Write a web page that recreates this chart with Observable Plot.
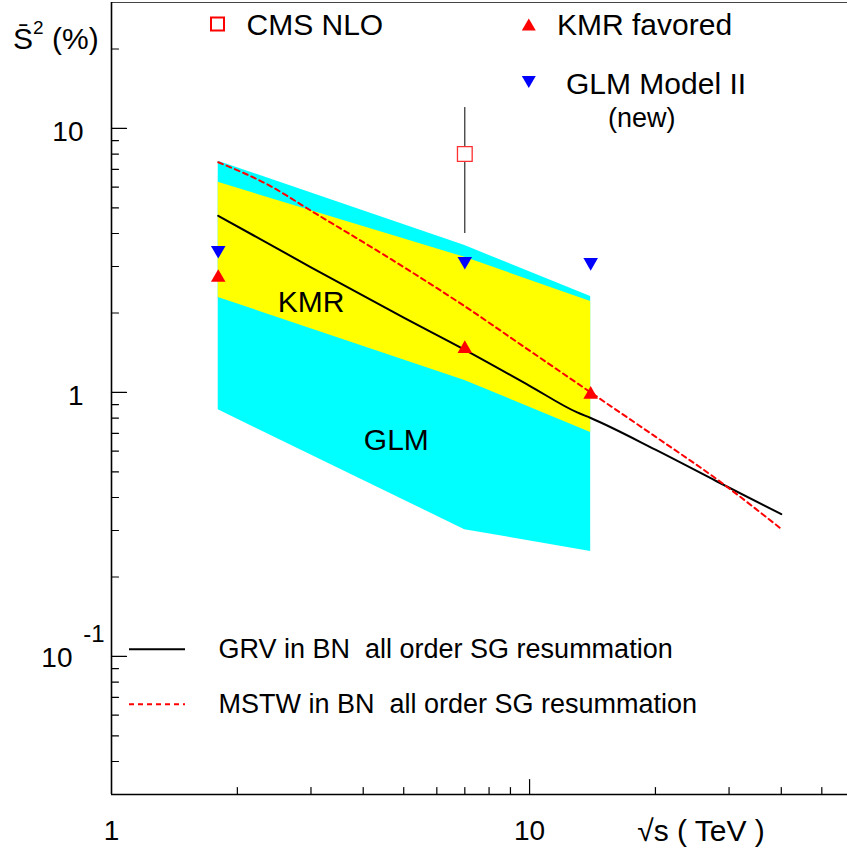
<!DOCTYPE html>
<html><head><meta charset="utf-8">
<script src="https://cdn.jsdelivr.net/npm/d3@7"></script>
<script src="https://cdn.jsdelivr.net/npm/@observablehq/plot@0.6"></script>
<style>html,body{margin:0;padding:0;background:#fff;overflow:hidden}</style>
</head><body><div id="chart"></div>
<script>
// ---------- data (sqrt(s) in TeV, S^2 in %) ----------
const bandEnergies = [1.8, 7, 14];
const glmUpper = [7.52, 3.60, 2.31];
const glmLower = [0.86, 0.302, 0.25];
const kmrUpper = [6.25, 3.25, 2.21];
const kmrLower = [2.29, 1.11, 0.706];

const grvEnergies = [1.8, 3, 5, 7, 10, 13, 14, 20, 28, 40];
const grvValues   = [4.67, 2.98, 1.92, 1.45, 1.06, 0.84, 0.80, 0.607, 0.461, 0.346];
const mstwEnergies = [1.8, 2.4, 3, 4.6, 7, 10, 14, 20, 28, 40];
const mstwValues   = [7.45, 6.05, 4.88, 3.24, 2.12, 1.44, 1.0, 0.68, 0.47, 0.304];

const cmsEnergies = [7];
const cmsValues = [8.0];
const cmsLow = [4.0];
const cmsHigh = [12.0];

const kmrFavEnergies = [1.8, 7, 14];
const kmrFavValues = [2.77, 1.49, 1.0];
const glmIIEnergies = [1.8, 7, 14];
const glmIIValues = [3.40, 3.09, 3.06];

const xMajorTicks = [10];
const xMinorTicks = [2, 3, 4, 5, 6, 7, 8, 9, 20, 30, 40, 50];
const yMajorTicks = [0.1, 1, 10];
const yMinorTicks = [0.04, 0.05, 0.06, 0.07, 0.08, 0.09, 0.2, 0.3, 0.4, 0.5, 0.6, 0.7, 0.8, 0.9, 2, 3, 4, 5, 6, 7, 8, 9, 20];
const xTickValues = [1, 10];
const xTickLabels = ["1", "10"];
const yTickValues = [10, 1];
const yTickLabels = ["10", "1"];
const bandNames = ["KMR", "GLM"];
const bandLabelEnergies = [3.0, 4.8];
const bandLabelValues = [2.2, 0.66];

// ---------- tables ----------
const glmBand = bandEnergies.map((e, i) => ({e, lo: glmLower[i], hi: glmUpper[i]}));
const kmrBand = bandEnergies.map((e, i) => ({e, lo: kmrLower[i], hi: kmrUpper[i]}));
const grv = grvEnergies.map((e, i) => ({e, v: grvValues[i]}));
const mstw = mstwEnergies.map((e, i) => ({e, v: mstwValues[i]}));
const cms = cmsEnergies.map((e, i) => ({e, v: cmsValues[i], lo: cmsLow[i], hi: cmsHigh[i]}));
const kmrFav = kmrFavEnergies.map((e, i) => ({e, v: kmrFavValues[i]}));
const glmII = glmIIEnergies.map((e, i) => ({e, v: glmIIValues[i]}));
const bandLabels = bandNames.map((t, i) => ({t, e: bandLabelEnergies[i], v: bandLabelValues[i]}));
const xLabels = xTickValues.map((v, i) => ({v, t: xTickLabels[i]}));
const yLabels = yTickValues.map((v, i) => ({v, t: yTickLabels[i]}));

const FONT = "'Liberation Sans', Arial, Helvetica, sans-serif";
const tickShape = {draw(ctx, l) { ctx.moveTo(0, 0); ctx.lineTo(0, -l); }};

const W = 847, H = 853;
const chart = Plot.plot({
  width: W, height: H,
  marginLeft: 111, marginRight: 0, marginTop: 2, marginBottom: 59,
  x: {type: "log", domain: [1, 57.6], axis: null},
  y: {type: "log", domain: [0.03, 30], axis: null},
  style: {fontFamily: FONT, background: "white", color: "black"},
  marks: [
    Plot.areaY(glmBand, {x: "e", y1: "lo", y2: "hi", fill: "#00ffff", curve: "linear"}),
    Plot.areaY(kmrBand, {x: "e", y1: "lo", y2: "hi", fill: "#ffff00", curve: "linear"}),
    Plot.line(grv, {x: "e", y: "v", stroke: "black", strokeWidth: 2, curve: "monotone-x"}),
    Plot.line(mstw, {x: "e", y: "v", stroke: "#ff0000", strokeWidth: 2, strokeDasharray: "5,4", curve: "monotone-x"}),
    Plot.ruleX(cms, {x: "e", y1: "lo", y2: "hi", stroke: "black", strokeWidth: 1}),
    Plot.dot(cms, {x: "e", y: "v", symbol: "square", r: 8.3, stroke: "#ff3030", strokeWidth: 1.3, fill: "white"}),
    Plot.dot(kmrFav, {x: "e", y: "v", symbol: "triangle", r: 5.4, fill: "#ff0000", stroke: "none", dy: 2}),
    Plot.dot(glmII, {x: "e", y: "v", symbol: "triangle", rotate: 180, r: 5.4, fill: "#0000ff", stroke: "none", dy: -2}),
    Plot.text(bandLabels, {x: "e", y: "v", text: "t", fontSize: 30, fill: "black", lineAnchor: "middle"}),
    // frame
    Plot.ruleY([30], {stroke: "#444", strokeWidth: 1.2}),
    Plot.ruleX([1], {stroke: "black", strokeWidth: 1.6}),
    Plot.ruleY([0.03], {stroke: "black", strokeWidth: 1.6}),
    // ticks (pointing inward)
    Plot.vector(xMinorTicks, {x: d => d, frameAnchor: "bottom", length: 7, anchor: "start", shape: tickShape, stroke: "black", strokeWidth: 1.2}),
    Plot.vector(xMajorTicks, {x: d => d, frameAnchor: "bottom", length: 15, anchor: "start", shape: tickShape, stroke: "black", strokeWidth: 1.2}),
    Plot.vector(yMinorTicks, {y: d => d, frameAnchor: "left", rotate: 90, length: 7, anchor: "start", shape: tickShape, stroke: "black", strokeWidth: 1.2}),
    Plot.vector(yMajorTicks, {y: d => d, frameAnchor: "left", rotate: 90, length: 15, anchor: "start", shape: tickShape, stroke: "black", strokeWidth: 1.2}),
    // tick labels
    Plot.text(xLabels, {x: "v", frameAnchor: "bottom", dy: 37, text: "t", fontSize: 28, lineAnchor: "middle", fill: "black"}),
    Plot.text(yLabels, {y: "v", frameAnchor: "left", dx: -28, dy: 4, text: "t", fontSize: 28, textAnchor: "end", lineAnchor: "middle", fill: "black"}),
    Plot.text([0.1], {y: d => d, frameAnchor: "left", dx: -39, dy: 2, text: () => "10", fontSize: 28, textAnchor: "end", lineAnchor: "middle", fill: "black"}),
    Plot.text([0.1], {y: d => d, frameAnchor: "left", dx: -7, dy: -22, text: () => "-1", fontSize: 24, textAnchor: "end", lineAnchor: "middle", fill: "black"})
  ]
});
document.getElementById("chart").appendChild(chart);

// ---------- titles and legends ----------
const svg = d3.select(chart);
const g = svg.append("g").attr("font-family", FONT).attr("fill", "black").attr("text-anchor", "start");

// y-axis title
const yt = g.append("text").attr("x", 13).attr("y", 48.5).attr("font-size", 30).attr("text-anchor", "start");
yt.append("tspan").text("S\u0304");
yt.append("tspan").attr("font-size", 19).attr("dy", -15).text("2");
yt.append("tspan").attr("x", 52).attr("dy", 15).text("(%)");

// x-axis title
g.append("text").attr("x", 701).attr("y", 841).attr("font-size", 30).attr("text-anchor", "middle").text("\u221As ( TeV )");

// top legend
g.append("rect").attr("x", 211).attr("y", 17.5).attr("width", 13).attr("height", 13)
  .attr("fill", "white").attr("stroke", "#ff0000").attr("stroke-width", 2);
g.append("text").attr("x", 246.5).attr("y", 35).attr("font-size", 30).text("CMS NLO");
g.append("path").attr("d", "M528.8,18.5L535.8,30.5L521.8,30.5Z").attr("fill", "#ff0000");
g.append("text").attr("x", 557).attr("y", 35).attr("font-size", 30).text("KMR favored");
g.append("path").attr("d", "M521.8,76L535.8,76L528.8,88Z").attr("fill", "#0000ff");
g.append("text").attr("x", 566).attr("y", 93.5).attr("font-size", 30).text("GLM Model II");
g.append("text").attr("x", 608).attr("y", 127).attr("font-size", 27).text("(new)");

// bottom legend
g.append("line").attr("x1", 129).attr("x2", 185).attr("y1", 649.3).attr("y2", 649.3)
  .attr("stroke", "black").attr("stroke-width", 2);
g.append("text").attr("x", 218.5).attr("y", 658).attr("font-size", 27)
  .style("white-space", "pre").text("GRV in BN  all order SG resummation");
g.append("line").attr("x1", 129).attr("x2", 185).attr("y1", 704.3).attr("y2", 704.3)
  .attr("stroke", "#ff0000").attr("stroke-width", 2).attr("stroke-dasharray", "5,4");
g.append("text").attr("x", 218.5).attr("y", 713).attr("font-size", 27)
  .style("white-space", "pre").text("MSTW in BN  all order SG resummation");
</script>
</body></html>
